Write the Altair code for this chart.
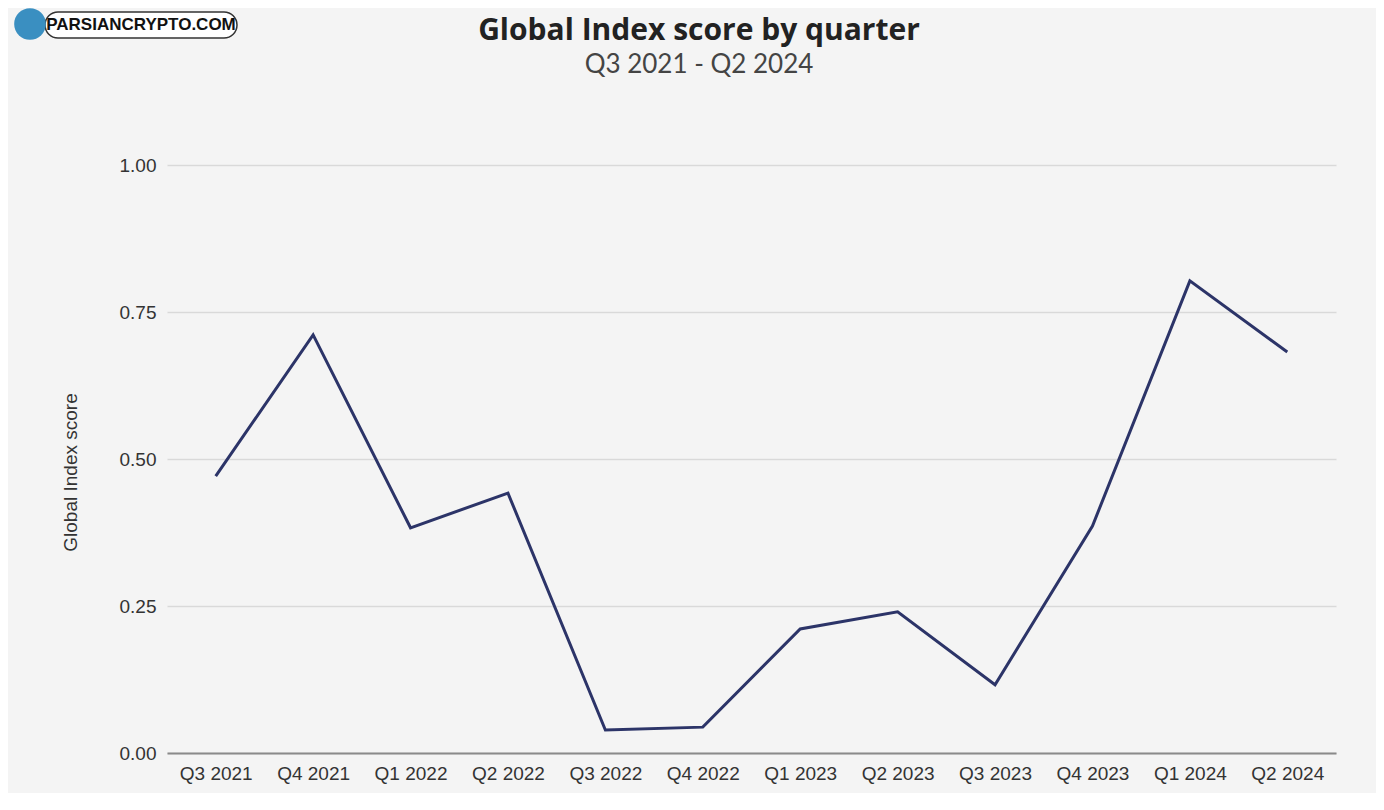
import altair as alt
import pandas as pd

quarters = ["Q3 2021", "Q4 2021", "Q1 2022", "Q2 2022", "Q3 2022", "Q4 2022",
            "Q1 2023", "Q2 2023", "Q3 2023", "Q4 2023", "Q1 2024", "Q2 2024"]
scores = [0.471, 0.711, 0.383, 0.442, 0.039, 0.044,
          0.211, 0.240, 0.116, 0.386, 0.803, 0.682]
y_ticks = [0, 0.25, 0.5, 0.75, 1.0]

title_text = "Global Index score by quarter"
subtitle_text = "Q3 2021 - Q2 2024"
badge_label = "PARSIANCRYPTO.COM"

df = pd.DataFrame({"quarter": quarters, "score": scores})

W, H = 1169, 588

line = alt.Chart(df).mark_line(color="#2c3468", strokeWidth=3).encode(
    x=alt.X("quarter:N", sort=quarters, title=None,
            scale=alt.Scale(type="point", padding=0.5),
            axis=alt.Axis(labelAngle=0, ticks=False, grid=False,
                          domainColor="#8a8a8a", domainWidth=2,
                          labelFont="Liberation Sans", labelFontSize=19,
                          labelColor="#333333", labelPadding=11)),
    y=alt.Y("score:Q", title="Global Index score",
            scale=alt.Scale(domain=[0, 1]),
            axis=alt.Axis(values=y_ticks, format=".2f", ticks=False, domain=False,
                          gridColor="#d9d9d9", gridWidth=1.5,
                          labelFont="Liberation Sans", labelFontSize=19,
                          labelColor="#333333", labelPadding=11,
                          titleFont="Liberation Sans", titleFontSize=19,
                          titleFontWeight="normal", titleColor="#333333",
                          titleX=-87, titleY=307)),
)

text_df = pd.DataFrame({"t": [title_text], "s": [subtitle_text], "b": [badge_label]})

title_mark = alt.Chart(text_df).mark_text(
    font="Open Sans", fontSize=30, fontWeight="bold", color="#222222",
    align="center", baseline="alphabetic"
).encode(text="t:N", x=alt.value(532), y=alt.value(-125))

subtitle_mark = alt.Chart(text_df).mark_text(
    font="Lato", fontSize=26, color="#444444",
    align="center", baseline="alphabetic"
).encode(text="s:N", x=alt.value(532), y=alt.value(-92))

# watermark badge (decoration)
pill = alt.Chart(text_df).mark_rect(
    fill="white", stroke="#333333", strokeWidth=1.5, cornerRadius=13
).encode(x=alt.value(-122), x2=alt.value(70), y=alt.value(-153), y2=alt.value(-127))
dot = alt.Chart(text_df).mark_point(
    filled=True, color="#3a8fc1", size=1000, opacity=1
).encode(x=alt.value(-137), y=alt.value(-141))
badge_text = alt.Chart(text_df).mark_text(
    font="Liberation Sans", fontSize=17, fontWeight="bold", color="#111111"
).encode(text="b:N", x=alt.value(-26), y=alt.value(-140))

chart = alt.layer(line, title_mark, subtitle_mark, pill, dot, badge_text).properties(
    width=W, height=H,
    autosize=alt.AutoSizeParams(type="none"),
    padding={"left": 159, "top": 157, "right": 40, "bottom": 40},
    background="#f4f4f4",
).configure_view(stroke=None)

chart.save("out.html", embed_options={"renderer": "svg", "actions": False})
